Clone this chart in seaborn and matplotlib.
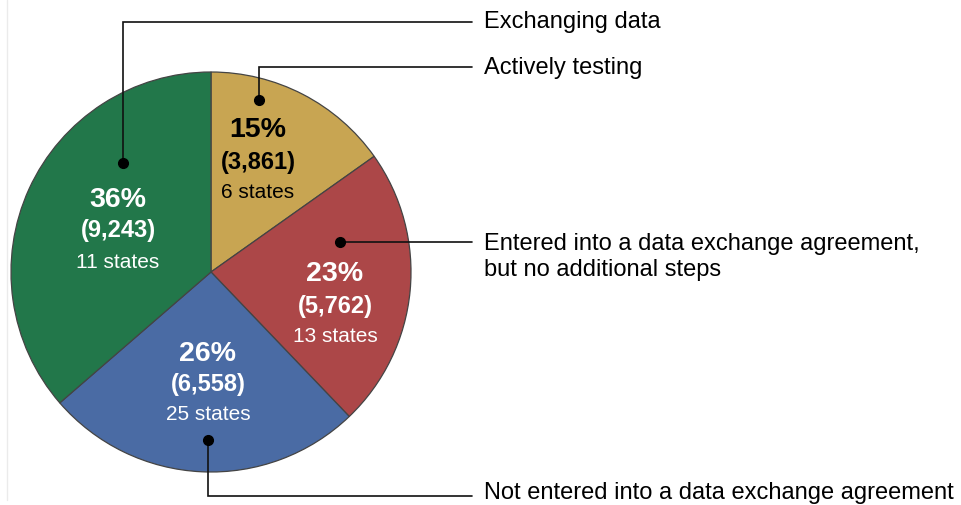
import matplotlib
matplotlib.use("Agg")
import matplotlib.pyplot as plt
import seaborn as sns

sns.set_theme(style="white")
plt.rcParams['font.family'] = ['Liberation Sans', 'DejaVu Sans']

# Data (clockwise from top)
categories = ["Actively testing",
              "Entered into a data exchange agreement,\nbut no additional steps",
              "Not entered into a data exchange agreement",
              "Exchanging data"]
counts = [3861, 5762, 6558, 9243]
percents = ["15%", "23%", "26%", "36%"]
count_labels = ["(3,861)", "(5,762)", "(6,558)", "(9,243)"]
states = ["6 states", "13 states", "25 states", "11 states"]
colors = ["#C8A552", "#AC4748", "#4A6BA4", "#22774A"]
text_colors = ["black", "white", "white", "white"]

W, H = 961, 505
fig = plt.figure(figsize=(W / 100, H / 100), dpi=100)
ax = fig.add_axes([0, 0, 1, 1])

def Y(y):
    return H - y

cx, cy, R = 211, 272, 200
ax.pie(counts, colors=colors, startangle=90, counterclock=False,
       center=(cx, Y(cy)), radius=R, frame=True,
       wedgeprops=dict(edgecolor="#444444", linewidth=0.9))
ax.set_xlim(0, W)
ax.set_ylim(0, H)
ax.set_axis_off()

# faint left border
ax.plot([7, 7], [Y(0), Y(500)], color="#ebebeb", lw=1)

# inside labels: (x, y of pct, y of count, y of states)
label_pos = [(258, 130, 162, 192), (335, 274, 307, 336),
             (208, 354, 385, 414), (118, 200, 230, 262)]
for i, (x, y1, y2, y3) in enumerate(label_pos):
    c = text_colors[i]
    ax.text(x, Y(y1), percents[i], ha="center", va="center", fontsize=20.5,
            fontweight="bold", color=c)
    ax.text(x, Y(y2), count_labels[i], ha="center", va="center", fontsize=17,
            fontweight="bold", color=c)
    ax.text(x, Y(y3), states[i], ha="center", va="center", fontsize=15,
            color=c)

# leader lines: dot position, path, label position
lc = "#111111"
leaders = [
    # Actively testing
    ([(259, 100), (259, 67), (472, 67)], (484, 68)),
    # Entered
    ([(340, 242), (472, 242)], (484, 257)),
    # Not entered
    ([(208, 440), (208, 496), (472, 496)], (484, 493)),
    # Exchanging
    ([(123, 163), (123, 22), (472, 22)], (484, 22)),
]
for i, (path, (tx, ty)) in enumerate(leaders):
    xs = [p[0] for p in path]
    ys = [Y(p[1]) for p in path]
    ax.plot(xs, ys, color=lc, lw=1.2, solid_joinstyle="miter")
    ax.plot([xs[0]], [ys[0]], "o", color="black", markersize=7)
    ax.text(tx, Y(ty), categories[i], ha="left", va="center", fontsize=17,
            color="black", linespacing=1.25)

fig.savefig("out.png", dpi=100)
